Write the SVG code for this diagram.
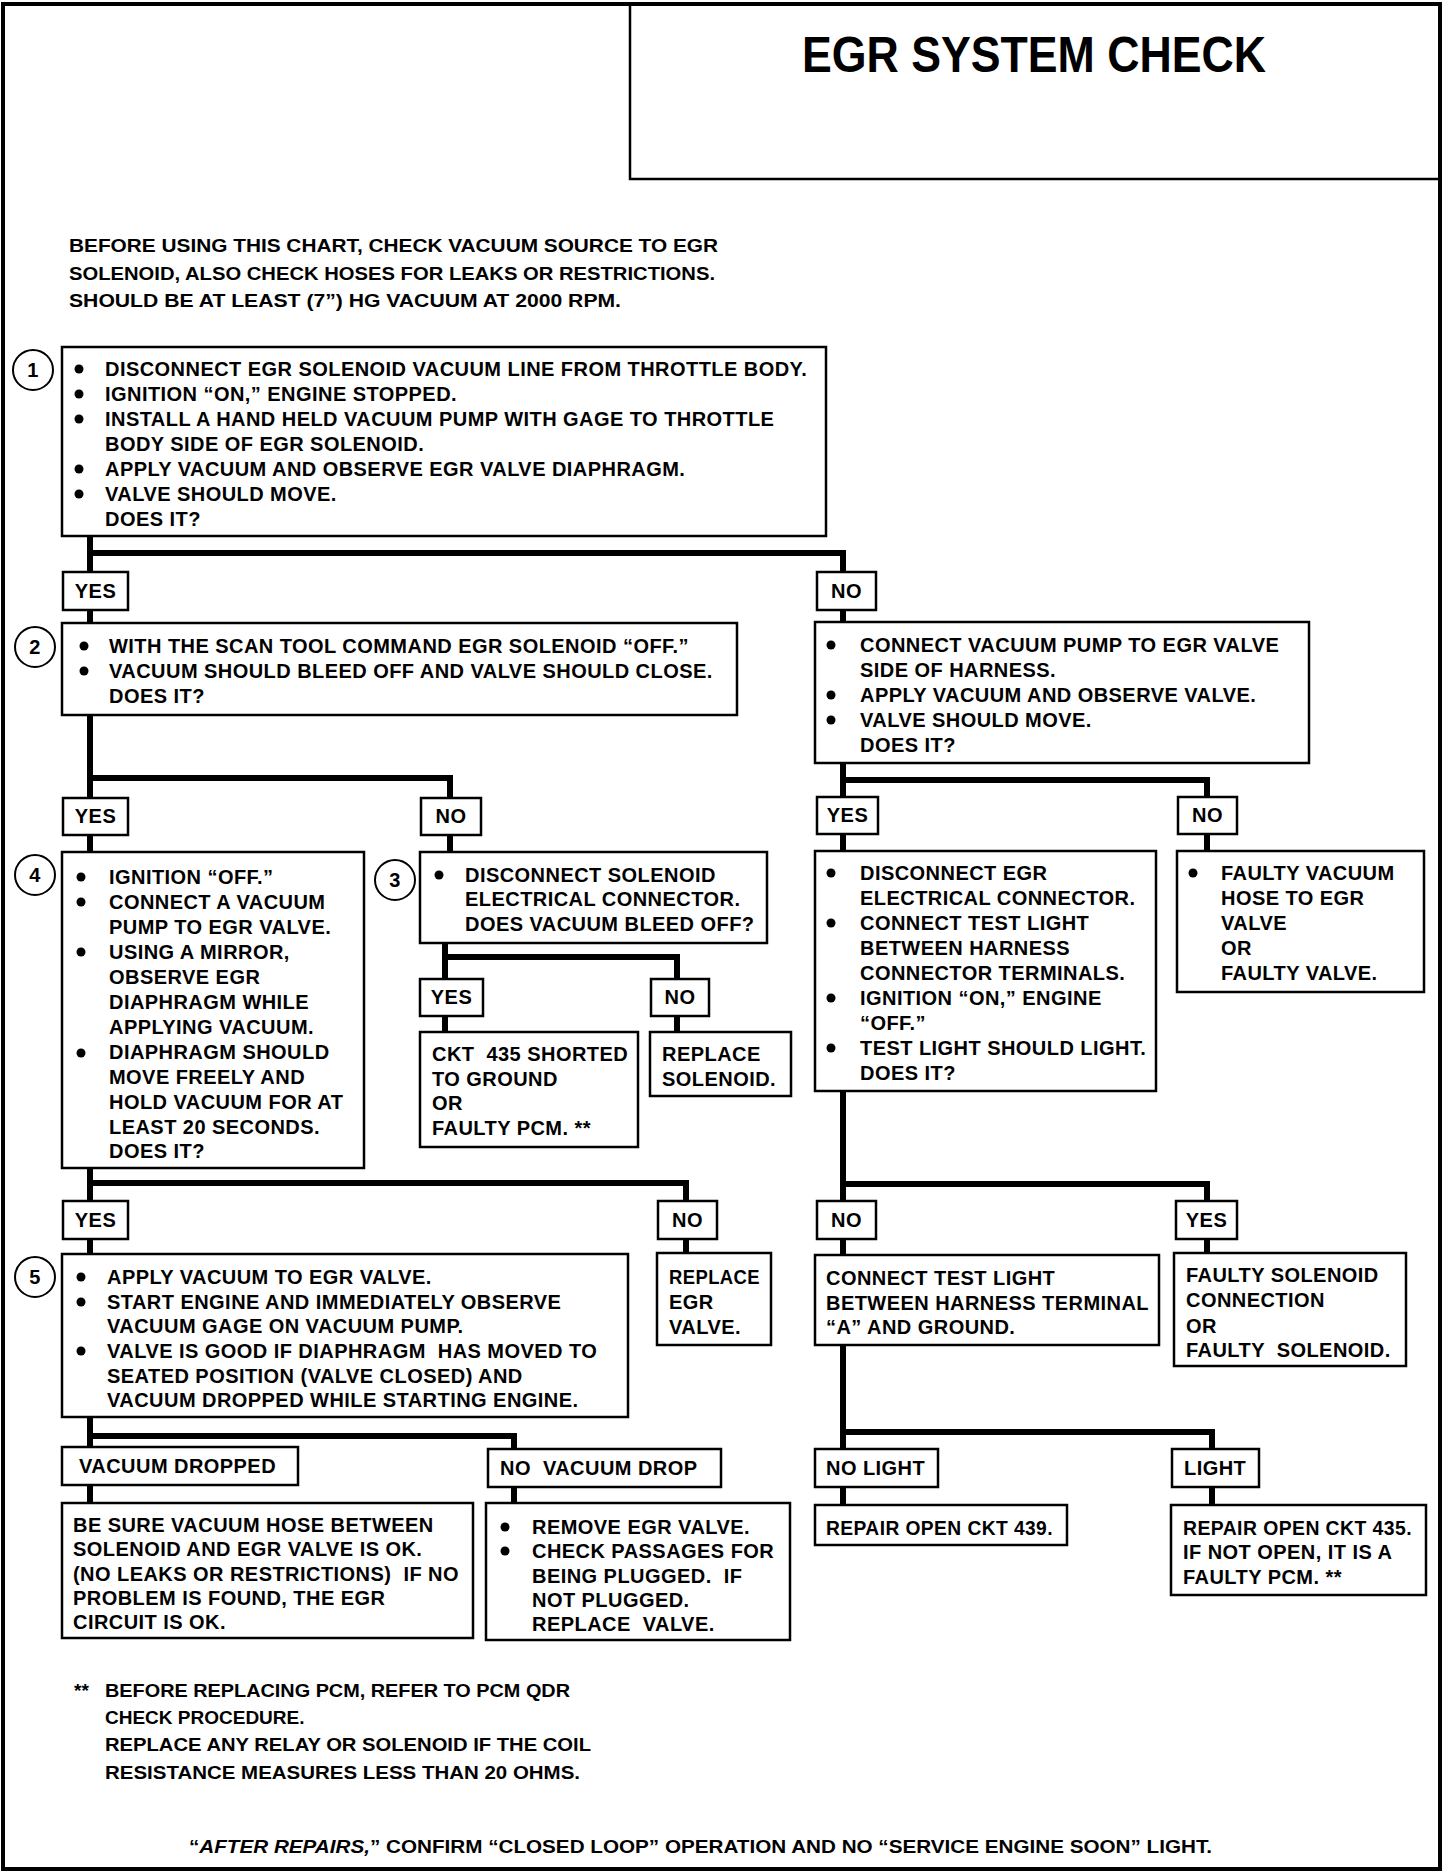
<svg xmlns="http://www.w3.org/2000/svg" width="1456" height="1876" viewBox="0 0 1456 1876">
<style>
text{font-family:"Liberation Sans",Arial,sans-serif;font-weight:bold;font-size:20px;fill:#000;letter-spacing:0.45px}
.box{fill:#fff;stroke:#000;stroke-width:2.5}
.lbl{fill:#fff;stroke:#000;stroke-width:2.5}
.conn{fill:none;stroke:#000;stroke-width:6;stroke-linejoin:miter;stroke-linecap:square}
.num{fill:#fff;stroke:#000;stroke-width:2}
.c{text-anchor:middle}
.intro{font-size:19px;letter-spacing:0}
</style>
<rect x="0" y="0" width="1456" height="1876" fill="#fff"/>
<rect x="3" y="4" width="1437" height="1865" fill="none" stroke="#000" stroke-width="4"/>
<g id="title">
<path d="M630 4 V179 H1440" fill="none" stroke="#000" stroke-width="2.5"/>
<text x="802" y="72" textLength="464" lengthAdjust="spacingAndGlyphs" style="font-size:50px;letter-spacing:0">EGR SYSTEM CHECK</text>
</g>
<g id="intro">
<text class="intro" x="69" y="252" textLength="649" lengthAdjust="spacingAndGlyphs">BEFORE USING THIS CHART, CHECK VACUUM SOURCE TO EGR</text>
<text class="intro" x="69" y="280" textLength="646" lengthAdjust="spacingAndGlyphs">SOLENOID, ALSO CHECK HOSES FOR LEAKS OR RESTRICTIONS.</text>
<text class="intro" x="69" y="307" textLength="552" lengthAdjust="spacingAndGlyphs">SHOULD BE AT LEAST (7”) HG VACUUM AT 2000 RPM.</text>
</g>
<g id="connectors">
<path class="conn" d="M90 536 V1503"/>
<path class="conn" d="M90 553 H843 V1505"/>
<path class="conn" d="M90 778 H450 V852"/>
<path class="conn" d="M445 943 V1032"/>
<path class="conn" d="M445 957 H677 V1032"/>
<path class="conn" d="M90 1183 H686 V1253"/>
<path class="conn" d="M90 1436 H514 V1503"/>
<path class="conn" d="M843 780 H1207 V851"/>
<path class="conn" d="M843 1184 H1207 V1253"/>
<path class="conn" d="M843 1432 H1212 V1505"/>
</g>
<g id="step1">
<circle class="num" cx="33" cy="370" r="20"/>
<text class="c" x="33" y="377">1</text>
<rect class="box" x="62" y="347" width="764" height="189"/>
<circle cx="79" cy="369" r="4.5"/><circle cx="79" cy="394" r="4.5"/><circle cx="79" cy="419" r="4.5"/><circle cx="79" cy="469" r="4.5"/><circle cx="79" cy="494" r="4.5"/>
<text x="105" y="376">DISCONNECT EGR SOLENOID VACUUM LINE FROM THROTTLE BODY.</text>
<text x="105" y="401">IGNITION “ON,” ENGINE STOPPED.</text>
<text x="105" y="426">INSTALL A HAND HELD VACUUM PUMP WITH GAGE TO THROTTLE</text>
<text x="105" y="451">BODY SIDE OF EGR SOLENOID.</text>
<text x="105" y="476">APPLY VACUUM AND OBSERVE EGR VALVE DIAPHRAGM.</text>
<text x="105" y="501">VALVE SHOULD MOVE.</text>
<text x="105" y="526">DOES IT?</text>
</g>
<g id="yes1"><rect class="lbl" x="63" y="572" width="65" height="38"/><text class="c" x="95.5" y="598">YES</text></g>
<g id="no1"><rect class="lbl" x="817" y="572" width="59" height="38"/><text class="c" x="846.5" y="598">NO</text></g>
<g id="step2">
<circle class="num" cx="35" cy="647" r="20"/>
<text class="c" x="35" y="654">2</text>
<rect class="box" x="62" y="623" width="675" height="92"/>
<circle cx="84" cy="646" r="4.5"/><circle cx="84" cy="671" r="4.5"/>
<text x="109" y="653">WITH THE SCAN TOOL COMMAND EGR SOLENOID “OFF.”</text>
<text x="109" y="678">VACUUM SHOULD BLEED OFF AND VALVE SHOULD CLOSE.</text>
<text x="109" y="703">DOES IT?</text>
</g>
<g id="pumpHarness">
<rect class="box" x="815" y="622" width="494" height="141"/>
<circle cx="831" cy="645" r="4.5"/><circle cx="831" cy="695" r="4.5"/><circle cx="831" cy="720" r="4.5"/>
<text x="860" y="652">CONNECT VACUUM PUMP TO EGR VALVE</text>
<text x="860" y="677">SIDE OF HARNESS.</text>
<text x="860" y="702">APPLY VACUUM AND OBSERVE VALVE.</text>
<text x="860" y="727">VALVE SHOULD MOVE.</text>
<text x="860" y="752">DOES IT?</text>
</g>
<g id="yes2"><rect class="lbl" x="63" y="798" width="65" height="37"/><text class="c" x="95.5" y="823">YES</text></g>
<g id="no2"><rect class="lbl" x="421" y="798" width="60" height="37"/><text class="c" x="451" y="823">NO</text></g>
<g id="yesA"><rect class="lbl" x="817" y="797" width="61" height="37"/><text class="c" x="847.5" y="822">YES</text></g>
<g id="noA"><rect class="lbl" x="1178" y="797" width="59" height="37"/><text class="c" x="1207.5" y="822">NO</text></g>
<g id="step4">
<circle class="num" cx="35" cy="875" r="20"/>
<text class="c" x="35" y="882">4</text>
<rect class="box" x="62" y="852" width="302" height="316"/>
<circle cx="81" cy="877" r="4.5"/><circle cx="81" cy="902" r="4.5"/><circle cx="81" cy="952" r="4.5"/><circle cx="81" cy="1053" r="4.5"/>
<text x="109" y="884">IGNITION “OFF.”</text>
<text x="109" y="909">CONNECT A VACUUM</text>
<text x="109" y="934">PUMP TO EGR VALVE.</text>
<text x="109" y="959">USING A MIRROR,</text>
<text x="109" y="984">OBSERVE EGR</text>
<text x="109" y="1009">DIAPHRAGM WHILE</text>
<text x="109" y="1034">APPLYING VACUUM.</text>
<text x="109" y="1059">DIAPHRAGM SHOULD</text>
<text x="109" y="1084">MOVE FREELY AND</text>
<text x="109" y="1109">HOLD VACUUM FOR AT</text>
<text x="109" y="1134">LEAST 20 SECONDS.</text>
<text x="109" y="1158">DOES IT?</text>
</g>
<g id="step3">
<circle class="num" cx="395" cy="880" r="20"/>
<text class="c" x="395" y="887">3</text>
<rect class="box" x="420" y="852" width="347" height="91"/>
<circle cx="439" cy="875" r="4.5"/>
<text x="465" y="882">DISCONNECT SOLENOID</text>
<text x="465" y="906">ELECTRICAL CONNECTOR.</text>
<text x="465" y="931">DOES VACUUM BLEED OFF?</text>
</g>
<g id="yes3"><rect class="lbl" x="420" y="979" width="63" height="37"/><text class="c" x="451.5" y="1004">YES</text></g>
<g id="no3"><rect class="lbl" x="651" y="979" width="58" height="37"/><text class="c" x="680" y="1004">NO</text></g>
<g id="ckt435short">
<rect class="box" x="420" y="1032" width="218" height="115"/>
<text x="432" y="1061" xml:space="preserve">CKT  435 SHORTED</text>
<text x="432" y="1086">TO GROUND</text>
<text x="432" y="1110">OR</text>
<text x="432" y="1135">FAULTY PCM. **</text>
</g>
<g id="replaceSolenoid">
<rect class="box" x="650" y="1032" width="141" height="64"/>
<text x="662" y="1061">REPLACE</text>
<text x="662" y="1086">SOLENOID.</text>
</g>
<g id="disconnectEgr">
<rect class="box" x="815" y="851" width="341" height="240"/>
<circle cx="831" cy="873" r="4.5"/><circle cx="831" cy="923" r="4.5"/><circle cx="831" cy="998" r="4.5"/><circle cx="831" cy="1048" r="4.5"/>
<text x="860" y="880">DISCONNECT EGR</text>
<text x="860" y="905">ELECTRICAL CONNECTOR.</text>
<text x="860" y="930">CONNECT TEST LIGHT</text>
<text x="860" y="955">BETWEEN HARNESS</text>
<text x="860" y="980">CONNECTOR TERMINALS.</text>
<text x="860" y="1005">IGNITION “ON,” ENGINE</text>
<text x="860" y="1030">“OFF.”</text>
<text x="860" y="1055">TEST LIGHT SHOULD LIGHT.</text>
<text x="860" y="1080">DOES IT?</text>
</g>
<g id="faultyHose">
<rect class="box" x="1177" y="851" width="247" height="141"/>
<circle cx="1193" cy="873" r="4.5"/>
<text x="1221" y="880">FAULTY VACUUM</text>
<text x="1221" y="905">HOSE TO EGR</text>
<text x="1221" y="930">VALVE</text>
<text x="1221" y="955">OR</text>
<text x="1221" y="980">FAULTY VALVE.</text>
</g>
<g id="yes4"><rect class="lbl" x="63" y="1201" width="65" height="38"/><text class="c" x="95.5" y="1227">YES</text></g>
<g id="no4"><rect class="lbl" x="658" y="1201" width="59" height="38"/><text class="c" x="687.5" y="1227">NO</text></g>
<g id="noB"><rect class="lbl" x="817" y="1201" width="59" height="38"/><text class="c" x="846.5" y="1227">NO</text></g>
<g id="yesB"><rect class="lbl" x="1176" y="1201" width="61" height="38"/><text class="c" x="1206.5" y="1227">YES</text></g>
<g id="step5">
<circle class="num" cx="35" cy="1277" r="20"/>
<text class="c" x="35" y="1284">5</text>
<rect class="box" x="62" y="1254" width="566" height="163"/>
<circle cx="81" cy="1277" r="4.5"/><circle cx="81" cy="1302" r="4.5"/><circle cx="81" cy="1351" r="4.5"/>
<text x="107" y="1284">APPLY VACUUM TO EGR VALVE.</text>
<text x="107" y="1309">START ENGINE AND IMMEDIATELY OBSERVE</text>
<text x="107" y="1333">VACUUM GAGE ON VACUUM PUMP.</text>
<text x="107" y="1358" xml:space="preserve">VALVE IS GOOD IF DIAPHRAGM  HAS MOVED TO</text>
<text x="107" y="1383">SEATED POSITION (VALVE CLOSED) AND</text>
<text x="107" y="1407">VACUUM DROPPED WHILE STARTING ENGINE.</text>
</g>
<g id="replaceEgr">
<rect class="box" x="657" y="1253" width="114" height="92"/>
<text x="669" y="1284" textLength="91" lengthAdjust="spacingAndGlyphs">REPLACE</text>
<text x="669" y="1309">EGR</text>
<text x="669" y="1334">VALVE.</text>
</g>
<g id="testLightA">
<rect class="box" x="815" y="1255" width="344" height="90"/>
<text x="826" y="1285">CONNECT TEST LIGHT</text>
<text x="826" y="1310">BETWEEN HARNESS TERMINAL</text>
<text x="826" y="1334">“A” AND GROUND.</text>
</g>
<g id="faultySolenoid">
<rect class="box" x="1174" y="1253" width="232" height="113"/>
<text x="1186" y="1282">FAULTY SOLENOID</text>
<text x="1186" y="1307">CONNECTION</text>
<text x="1186" y="1333">OR</text>
<text x="1186" y="1357" xml:space="preserve">FAULTY  SOLENOID.</text>
</g>
<g id="vacDropped"><rect class="lbl" x="62" y="1447" width="236" height="38"/><text x="79" y="1473">VACUUM DROPPED</text></g>
<g id="noVacDrop"><rect class="lbl" x="488" y="1449" width="233" height="38"/><text x="500" y="1475" xml:space="preserve">NO  VACUUM DROP</text></g>
<g id="noLight"><rect class="lbl" x="815" y="1449" width="123" height="38"/><text x="826" y="1475">NO LIGHT</text></g>
<g id="light"><rect class="lbl" x="1172" y="1449" width="87" height="38"/><text x="1184" y="1475">LIGHT</text></g>
<g id="beSure">
<rect class="box" x="62" y="1503" width="411" height="135"/>
<text x="73" y="1532">BE SURE VACUUM HOSE BETWEEN</text>
<text x="73" y="1556">SOLENOID AND EGR VALVE IS OK.</text>
<text x="73" y="1581" xml:space="preserve">(NO LEAKS OR RESTRICTIONS)  IF NO</text>
<text x="73" y="1605">PROBLEM IS FOUND, THE EGR</text>
<text x="73" y="1629">CIRCUIT IS OK.</text>
</g>
<g id="removeEgr">
<rect class="box" x="486" y="1503" width="304" height="137"/>
<circle cx="505" cy="1527" r="4.5"/><circle cx="505" cy="1551" r="4.5"/>
<text x="532" y="1534">REMOVE EGR VALVE.</text>
<text x="532" y="1558">CHECK PASSAGES FOR</text>
<text x="532" y="1583" xml:space="preserve">BEING PLUGGED.  IF</text>
<text x="532" y="1607">NOT PLUGGED.</text>
<text x="532" y="1631" xml:space="preserve">REPLACE  VALVE.</text>
</g>
<g id="repair439">
<rect class="box" x="815" y="1505" width="252" height="40"/>
<text x="826" y="1535" textLength="227" lengthAdjust="spacingAndGlyphs">REPAIR OPEN CKT 439.</text>
</g>
<g id="repair435">
<rect class="box" x="1171" y="1505" width="255" height="90"/>
<text x="1183" y="1535" textLength="229" lengthAdjust="spacingAndGlyphs">REPAIR OPEN CKT 435.</text>
<text x="1183" y="1559">IF NOT OPEN, IT IS A</text>
<text x="1183" y="1584">FAULTY PCM. **</text>
</g>
<g id="footnote">
<text class="intro" x="74" y="1697">**</text>
<text class="intro" x="105" y="1697" textLength="465" lengthAdjust="spacingAndGlyphs">BEFORE REPLACING PCM, REFER TO PCM QDR</text>
<text class="intro" x="105" y="1724">CHECK PROCEDURE.</text>
<text class="intro" x="105" y="1751" textLength="486" lengthAdjust="spacingAndGlyphs">REPLACE ANY RELAY OR SOLENOID IF THE COIL</text>
<text class="intro" x="105" y="1779" textLength="475" lengthAdjust="spacingAndGlyphs">RESISTANCE MEASURES LESS THAN 20 OHMS.</text>
<text class="intro" x="189" y="1853" textLength="1023" lengthAdjust="spacingAndGlyphs">“<tspan font-style="italic">AFTER REPAIRS,</tspan>” CONFIRM “CLOSED LOOP” OPERATION AND NO “SERVICE ENGINE SOON” LIGHT.</text>
</g>
</svg>
